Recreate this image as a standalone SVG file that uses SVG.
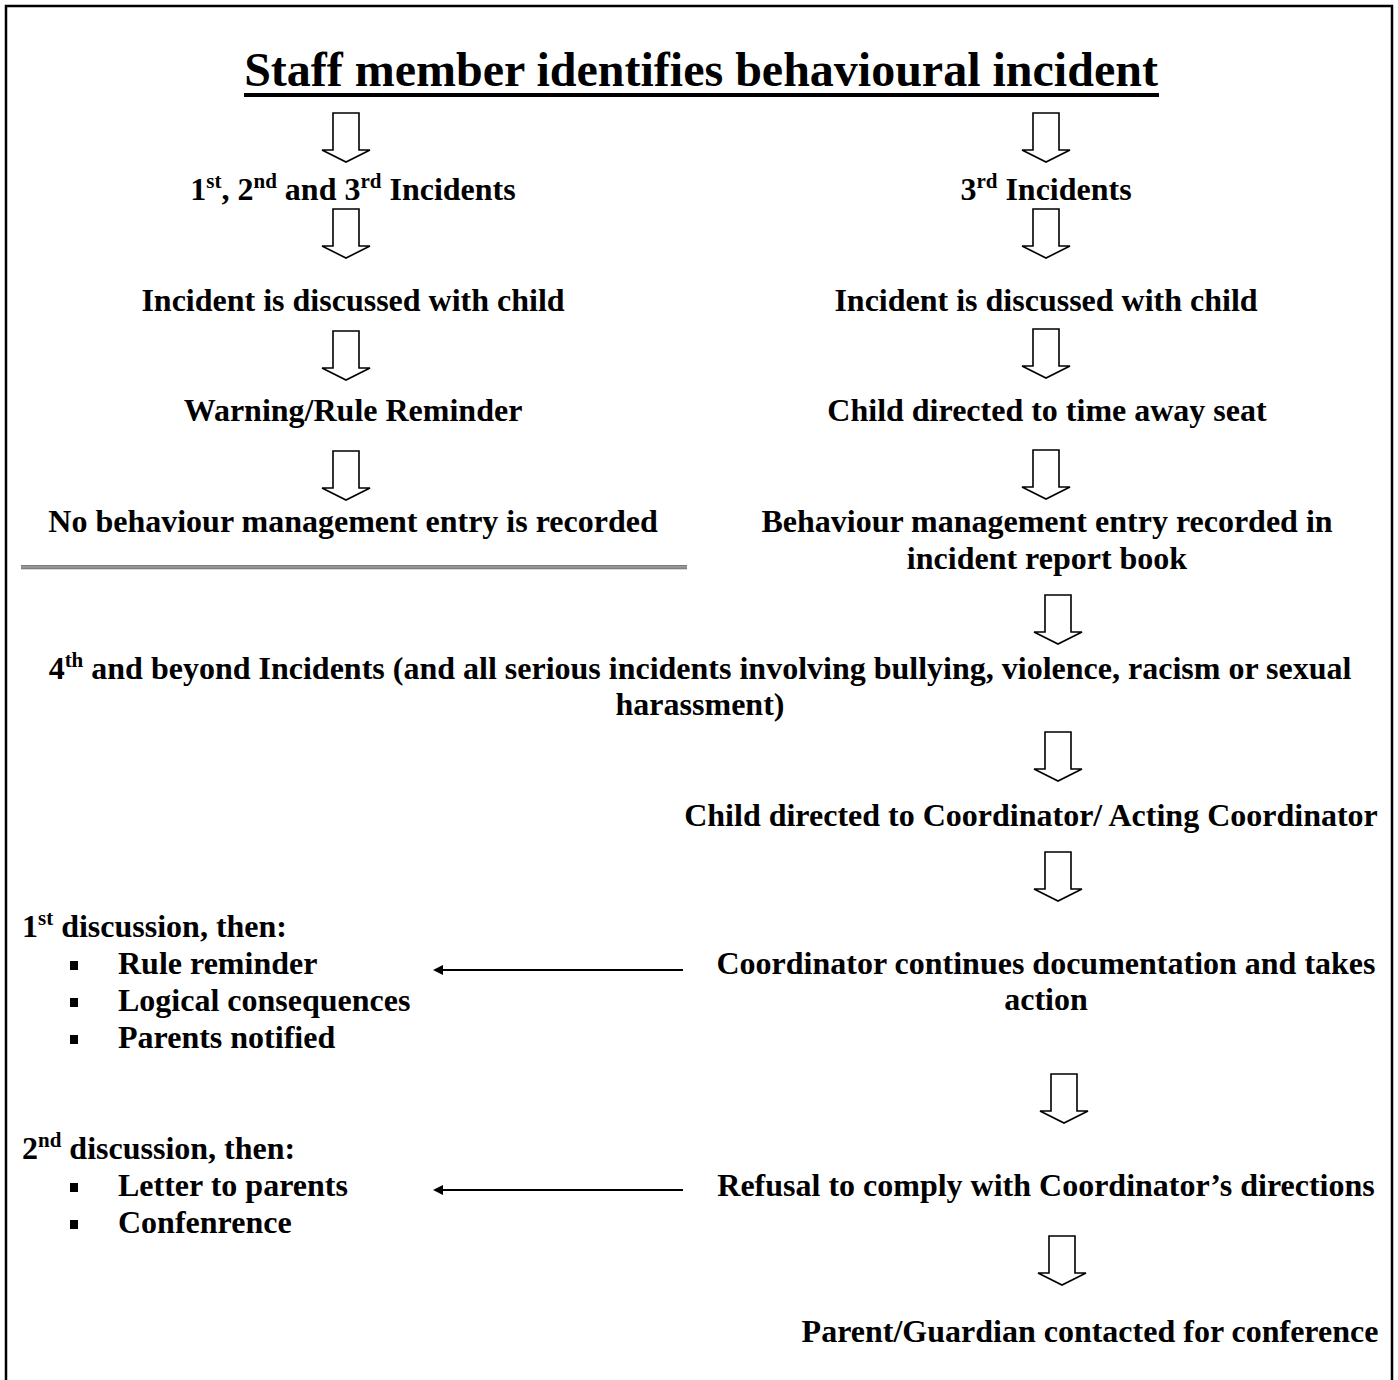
<svg xmlns="http://www.w3.org/2000/svg" width="1398" height="1380" viewBox="0 0 1398 1380">
<style>
.t{font-family:"Liberation Serif","Times New Roman",serif;font-weight:bold;font-size:32px;fill:#000}
.c{text-anchor:middle}
.ba{fill:#fff;stroke:#000;stroke-width:1.6;stroke-linejoin:miter}
.ha{stroke:#000;stroke-width:2;fill:none}
</style>
<defs>
<path id="dn" class="ba" d="M-13,0 H13 V37 H24 L0,49 L-24,37 H-13 Z"/>
<marker id="ah" viewBox="0 0 10 10" refX="1" refY="5" markerWidth="6" markerHeight="5" orient="auto-start-reverse" markerUnits="strokeWidth">
<path d="M0,0 L10,5 L0,10 Z" fill="#000"/>
</marker>
</defs>
<rect x="0" y="0" width="1398" height="1380" fill="#fff"/>
<rect x="6" y="6" width="1386" height="1400" fill="none" stroke="#000" stroke-width="2.5"/>

<g id="title">
<text class="t c" x="701" y="86" style="font-size:48px">Staff member identifies behavioural incident</text>
<rect x="244" y="93" width="915" height="4" fill="#000"/>
</g>

<g id="n-left-incidents"><text class="t c" x="353" y="200">1<tspan font-size="21" dy="-12">st</tspan><tspan dy="12">, 2</tspan><tspan font-size="21" dy="-12">nd</tspan><tspan dy="12"> and 3</tspan><tspan font-size="21" dy="-12">rd</tspan><tspan dy="12"> Incidents</tspan></text></g>
<g id="n-right-incidents"><text class="t c" x="1046" y="200">3<tspan font-size="21" dy="-12">rd</tspan><tspan dy="12"> Incidents</tspan></text></g>
<g id="n-left-discussed"><text class="t c" x="353" y="311">Incident is discussed with child</text></g>
<g id="n-right-discussed"><text class="t c" x="1046" y="311">Incident is discussed with child</text></g>
<g id="n-warning"><text class="t c" x="353" y="421">Warning/Rule Reminder</text></g>
<g id="n-timeaway"><text class="t c" x="1047" y="421">Child directed to time away seat</text></g>
<g id="n-noentry"><text class="t c" x="353" y="532">No behaviour management entry is recorded</text></g>
<g id="n-entry"><text class="t c" x="1047" y="532">Behaviour management entry recorded in</text><text class="t c" x="1047" y="569">incident report book</text></g>
<g id="separator">
<rect x="21" y="565" width="666" height="4" fill="#a6a6a6"/>
<rect x="21" y="565" width="666" height="1.3" fill="#7a7a7a"/>
<rect x="21" y="567.5" width="666" height="1.8" fill="#808080"/>
</g>
<g id="n-fourth"><text class="t c" x="700" y="679">4<tspan font-size="21" dy="-12">th</tspan><tspan dy="12"> and beyond Incidents (and all serious incidents involving bullying, violence, racism or sexual</tspan></text><text class="t c" x="700" y="715">harassment)</text></g>
<g id="n-coordinator"><text class="t c" x="1031" y="826">Child directed to Coordinator/ Acting Coordinator</text></g>
<g id="n-first-discussion">
<text class="t" x="22" y="937">1<tspan font-size="21" dy="-12">st</tspan><tspan dy="12"> discussion, then:</tspan></text>
<rect x="70" y="961" width="8" height="9" fill="#000"/><text class="t" x="118" y="974">Rule reminder</text>
<rect x="70" y="998" width="8" height="9" fill="#000"/><text class="t" x="118" y="1011">Logical consequences</text>
<rect x="70" y="1035" width="8" height="9" fill="#000"/><text class="t" x="118" y="1048">Parents notified</text>
</g>
<g id="n-continues"><text class="t c" x="1046" y="974">Coordinator continues documentation and takes</text><text class="t c" x="1046" y="1010">action</text></g>
<g id="n-second-discussion">
<text class="t" x="22" y="1159">2<tspan font-size="21" dy="-12">nd</tspan><tspan dy="12"> discussion, then:</tspan></text>
<rect x="70" y="1183" width="8" height="9" fill="#000"/><text class="t" x="118" y="1196">Letter to parents</text>
<rect x="70" y="1220" width="8" height="9" fill="#000"/><text class="t" x="118" y="1233">Confenrence</text>
</g>
<g id="n-refusal"><text class="t c" x="1046" y="1196">Refusal to comply with Coordinator’s directions</text></g>
<g id="n-parent"><text class="t c" x="1090" y="1342">Parent/Guardian contacted for conference</text></g>

<g id="connectors">
<use href="#dn" x="346" y="113"/>
<use href="#dn" x="1046" y="113"/>
<use href="#dn" x="346" y="209"/>
<use href="#dn" x="1046" y="209"/>
<use href="#dn" x="346" y="331"/>
<use href="#dn" x="1046" y="329"/>
<use href="#dn" x="346" y="451"/>
<use href="#dn" x="1046" y="450"/>
<use href="#dn" x="1058" y="595"/>
<use href="#dn" x="1058" y="732"/>
<use href="#dn" x="1058" y="852"/>
<use href="#dn" x="1064" y="1074"/>
<use href="#dn" x="1062" y="1236"/>
<line class="ha" x1="683" y1="970" x2="442" y2="970" marker-end="url(#ah)"/>
<line class="ha" x1="683" y1="1190" x2="442" y2="1190" marker-end="url(#ah)"/>
</g>
</svg>
